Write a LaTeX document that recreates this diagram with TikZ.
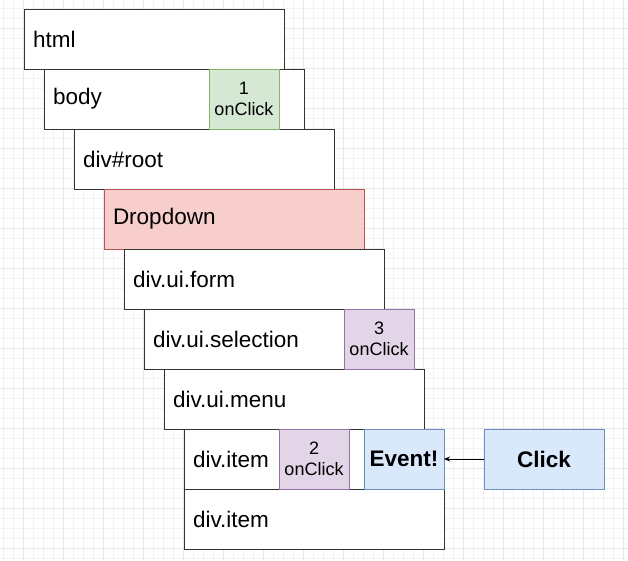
\documentclass[tikz,border=0pt]{standalone}
\usepackage{fontspec}
\setmainfont{Liberation Sans}
\usetikzlibrary{positioning}
\usetikzlibrary{arrows.meta}

\definecolor{greenfill}{HTML}{D5E8D4}
\definecolor{greenline}{HTML}{82B366}
\definecolor{purplefill}{HTML}{E1D5E7}
\definecolor{purpleline}{HTML}{9673A6}
\definecolor{redfill}{HTML}{F8CECC}
\definecolor{redline}{HTML}{B85450}
\definecolor{bluefill}{HTML}{DAE8FC}
\definecolor{blueline}{HTML}{6C8EBF}

\begin{document}
\begin{tikzpicture}[x=1pt,y=-1pt,
   tag/.style={draw=black!80, line width=1pt, fill=white, anchor=north west,
     minimum height=60pt, text width=242pt, inner xsep=9pt, inner ysep=0pt,
     outer sep=0pt, align=left, font=\fontsize{22.5}{27}\selectfont},
   handler/.style={anchor=north west, minimum width=70pt, minimum height=60pt,
     inner sep=0pt, outer sep=0pt, align=center, font=\fontsize{18}{21}\selectfont},
   bluebox/.style={draw=blueline, fill=bluefill, line width=1pt, outer sep=0pt,
     minimum height=60pt, inner sep=0pt, font=\fontsize{22.5}{27}\selectfont\bfseries}]
   % background with grid
   \fill[white] (0,0) rectangle (628,560);
   \useasboundingbox (0,0) rectangle (628,560);
   \foreach \gx in {3,13,...,623} \draw[black!5, line width=0.6pt] (\gx,0) -- (\gx,560);
   \foreach \gy in {8,18,...,558} \draw[black!5, line width=0.6pt] (0,\gy) -- (628,\gy);
   \foreach \gx in {23,63,...,623} \draw[black!9, line width=0.8pt] (\gx,0) -- (\gx,560);
   \foreach \gy in {28,68,...,548} \draw[black!9, line width=0.8pt] (0,\gy) -- (628,\gy);
   %
   \node[tag] (html) at (24,9) {html};
   \node[tag] (body) at ([xshift=20pt]html.south west) {body};
   \node[tag] (root) at ([xshift=30pt]body.south west) {div\#root};
   \node[tag, draw=redline, fill=redfill] (dropdown) at ([xshift=30pt]root.south west) {Dropdown};
   \node[tag] (form) at ([xshift=20pt]dropdown.south west) {div.ui.form};
   \node[tag] (selection) at ([xshift=20pt]form.south west) {div.ui.selection};
   \node[tag] (menu) at ([xshift=20pt]selection.south west) {div.ui.menu};
   \node[tag] (item) at ([xshift=20pt]menu.south west) {div.item};
   \node[tag] (item2) at (item.south west) {div.item};
   %
   \node[handler, draw=greenline, fill=greenfill, line width=1pt] (click1) at ([xshift=165pt]body.north west) {1\\onClick};
   \node[handler, draw=purpleline, fill=purplefill, line width=1pt] (click3) at ([xshift=200pt]selection.north west) {3\\onClick};
   \node[handler, draw=purpleline, fill=purplefill, line width=1pt] (click2) at ([xshift=95pt]item.north west) {2\\onClick};
   %
   \node[bluebox, anchor=north east, minimum width=80pt] (event) at (item.north east) {Event!};
   \node[bluebox, minimum width=120pt, right=40pt of event] (click) {Click};
   \draw[-{Stealth[length=6pt,width=5pt]}, line width=0.8pt] (click) -- (event);
   %
\end{tikzpicture}
\end{document}
